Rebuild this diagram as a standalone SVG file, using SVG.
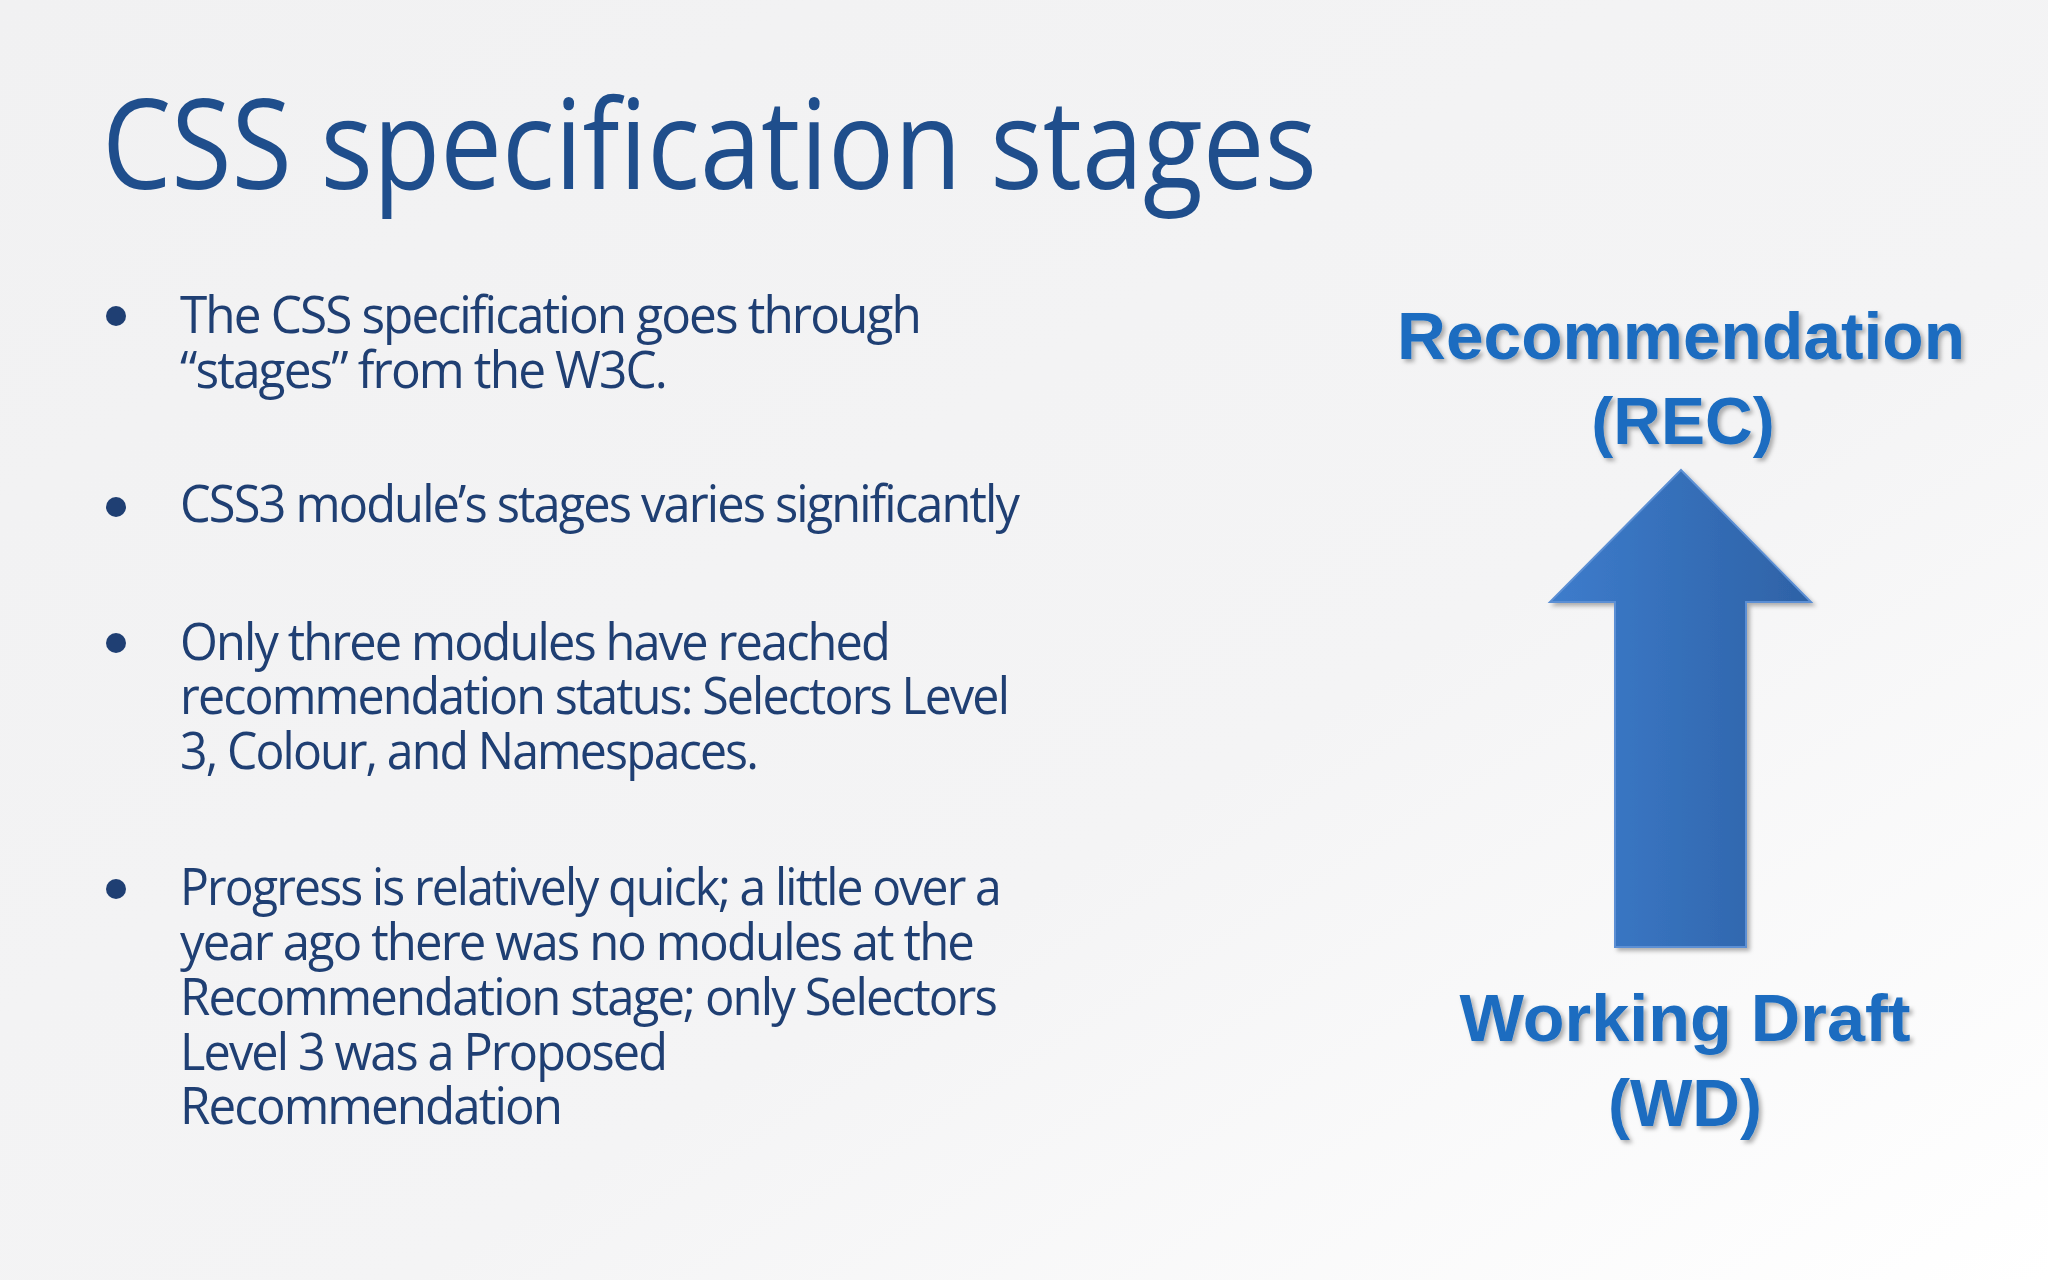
<svg xmlns="http://www.w3.org/2000/svg" width="2048" height="1280" viewBox="0 0 2048 1280">
<defs>
<linearGradient id="bg" x1="0" y1="0" x2="1" y2="1"><stop offset="0" stop-color="#f1f1f2"/><stop offset="0.6" stop-color="#f4f4f5"/><stop offset="1" stop-color="#ffffff"/></linearGradient>
<linearGradient id="ar" x1="0" y1="0" x2="1" y2="0"><stop offset="0" stop-color="#3d7ccc"/><stop offset="1" stop-color="#2e62a6"/></linearGradient>
<filter id="sh" x="-10%" y="-10%" width="130%" height="130%"><feDropShadow dx="3" dy="3" stdDeviation="2" flood-color="#000" flood-opacity="0.3"/></filter>
</defs>
<style>
.t{font-family:"Open Sans","Liberation Sans",sans-serif;fill:#1f3f73;font-size:52px;letter-spacing:-2px}
.l{font-family:"Liberation Sans",Arial,sans-serif;font-weight:bold;fill:#1a6cc0;font-size:66px;text-anchor:middle}
.d{fill:#1f3f73}
</style>
<rect width="2048" height="1280" fill="url(#bg)"/>
<g id="title"><text x="102" y="189" font-family="Open Sans, Liberation Sans, sans-serif" font-size="124" fill="#1f4e8c" textLength="1215" lengthAdjust="spacingAndGlyphs">CSS specification stages</text></g>
<g id="bullets">
<circle class="d" cx="116" cy="316" r="10"/>
<text class="t" x="180" y="333" textLength="740" lengthAdjust="spacingAndGlyphs">The CSS specification goes through</text>
<text class="t" x="180" y="388" textLength="486" lengthAdjust="spacingAndGlyphs">“stages” from the W3C.</text>
<circle class="d" cx="116" cy="507" r="10"/>
<text class="t" x="180" y="522" textLength="838" lengthAdjust="spacingAndGlyphs">CSS3 module’s stages varies significantly</text>
<circle class="d" cx="116" cy="643" r="10"/>
<text class="t" x="180" y="660" textLength="709" lengthAdjust="spacingAndGlyphs">Only three modules have reached</text>
<text class="t" x="180" y="714" textLength="828" lengthAdjust="spacingAndGlyphs">recommendation status: Selectors Level</text>
<text class="t" x="180" y="769" textLength="577" lengthAdjust="spacingAndGlyphs">3, Colour, and Namespaces.</text>
<circle class="d" cx="116" cy="889" r="10"/>
<text class="t" x="180" y="905" textLength="820" lengthAdjust="spacingAndGlyphs">Progress is relatively quick; a little over a</text>
<text class="t" x="180" y="960" textLength="793" lengthAdjust="spacingAndGlyphs">year ago there was no modules at the</text>
<text class="t" x="180" y="1015" textLength="816" lengthAdjust="spacingAndGlyphs">Recommendation stage; only Selectors</text>
<text class="t" x="180" y="1070" textLength="486" lengthAdjust="spacingAndGlyphs">Level 3 was a Proposed</text>
<text class="t" x="180" y="1124" textLength="381" lengthAdjust="spacingAndGlyphs">Recommendation</text>
</g>
<g id="rec" filter="url(#sh)"><text class="l" x="1681" y="359" textLength="568" lengthAdjust="spacingAndGlyphs">Recommendation</text><text class="l" x="1683" y="444">(REC)</text></g>
<g id="connectors"><path d="M1681 470 L1811 602 L1746 602 L1746 947 L1615 947 L1615 602 L1550 602 Z" fill="url(#ar)" stroke="#5b8fd4" stroke-width="2" filter="url(#sh)"/></g>
<g id="wd" filter="url(#sh)"><text class="l" x="1685" y="1041" textLength="451" lengthAdjust="spacingAndGlyphs">Working Draft</text><text class="l" x="1685" y="1126">(WD)</text></g>
</svg>
